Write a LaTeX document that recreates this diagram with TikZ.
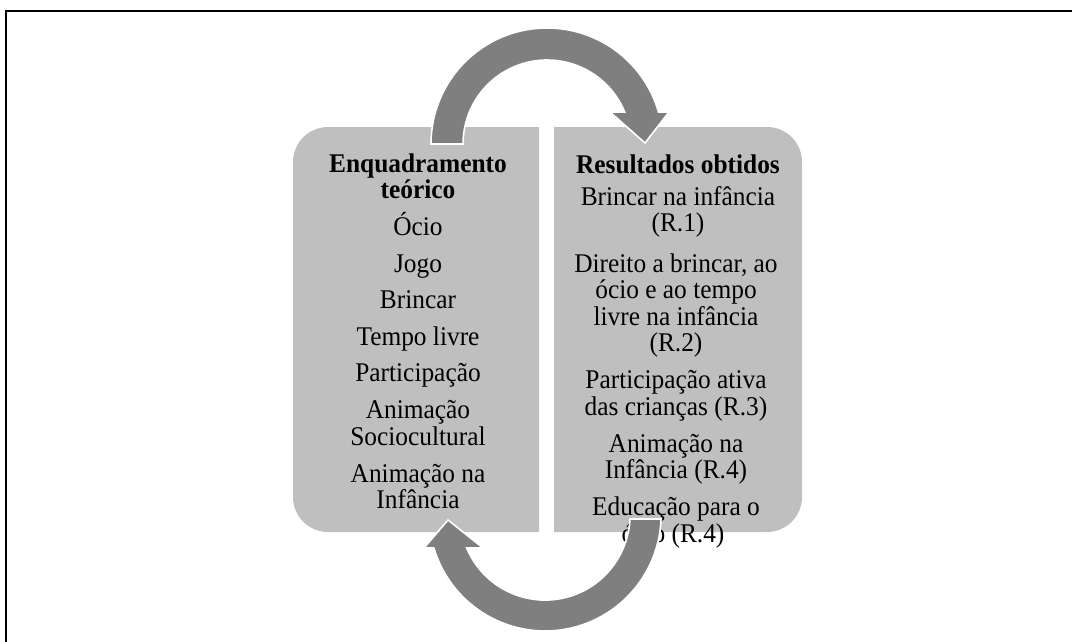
\documentclass[tikz,border=0pt]{standalone}
\usepackage{fontspec}
\setmainfont[FakeStretch=0.94]{Liberation Serif}
\definecolor{boxgray}{HTML}{BFBFBF}
\definecolor{arrowgray}{HTML}{7F7F7F}
\begin{document}
\begin{tikzpicture}[x=1pt,y=-1pt,
  txt/.style={font=\fontsize{27}{26.5}\selectfont, anchor=base, inner sep=0pt},
  hd/.style={font=\fontsize{27}{26.5}\selectfont\bfseries, anchor=base, inner sep=0pt},
  panel/.style={fill=boxgray, draw=none},
  arr/.style={fill=arrowgray, draw=white, line width=1.6pt, line join=miter},
  frame/.style={draw=black, line width=2.2pt}]
\useasboundingbox (0,0) rectangle (1072,641);
% outer frame (only top and left edges fall inside the picture)
\draw[frame] (6,645) -- (6,11) -- (1076,11);
% panels
\path[panel] (539,127) -- (328,127) arc[start angle=270, end angle=180, radius=35]
  -- (293,497) arc[start angle=180, end angle=90, radius=35] -- (539,532) -- cycle;
\path[panel] (554,127) -- (767,127) arc[start angle=270, end angle=360, radius=35]
  -- (802,497) arc[start angle=0, end angle=90, radius=35] -- (554,532) -- cycle;
% left texts
\node[hd]  (e1) at (418,172) {Enquadramento};
\node[hd]  (e2) at (418,198) {teórico};
\node[txt] (l1) at (418,235) {Ócio};
\node[txt] (l2) at (418,272) {Jogo};
\node[txt] (l3) at (418,308) {Brincar};
\node[txt] (l4) at (418,345) {Tempo livre};
\node[txt] (l5) at (418,381) {Participação};
\node[txt] (l6) at (418,418) {Animação};
\node[txt] (l7) at (418,445) {Sociocultural};
\node[txt] (l8) at (418,482) {Animação na};
\node[txt] (l9) at (418,508) {Infância};
% right texts
\node[hd]  (r0) at (678,173) {Resultados obtidos};
\node[txt] (r1) at (678,205) {Brincar na infância};
\node[txt] (r2) at (678,231) {(R.1)};
\node[txt] (r3) at (676,272) {Direito a brincar, ao};
\node[txt] (r4) at (676,298) {ócio e ao tempo};
\node[txt] (r5) at (676,325) {livre na infância};
\node[txt] (r6) at (676,351) {(R.2)};
\node[txt] (r7) at (676,388) {Participação ativa};
\node[txt] (r8) at (676,415) {das crianças (R.3)};
\node[txt] (r9) at (676,452) {Animação na};
\node[txt] (r10) at (676,478) {Infância (R.4)};
\node[txt] (r11) at (676,515) {Educação para o};
\node[txt] (r12) at (673,542) {ócio (R.4)};
% top circular arrow
\path[arr] (431,144) arc[start angle=180, end angle=344, radius=116]
  -- (669,112) -- (645,143) -- (610,112) -- (624.7,112)
  arc[start angle=337.6, end angle=180, radius=84] -- cycle;
% bottom circular arrow
\path[arr] (630,519) -- (661,519) arc[start angle=2, end angle=163.5, radius=116]
  -- (424,548) -- (448,520) -- (483,548) -- (466.7,548)
  arc[start angle=157.2, end angle=2.7, radius=85] -- cycle;
\end{tikzpicture}
\end{document}
